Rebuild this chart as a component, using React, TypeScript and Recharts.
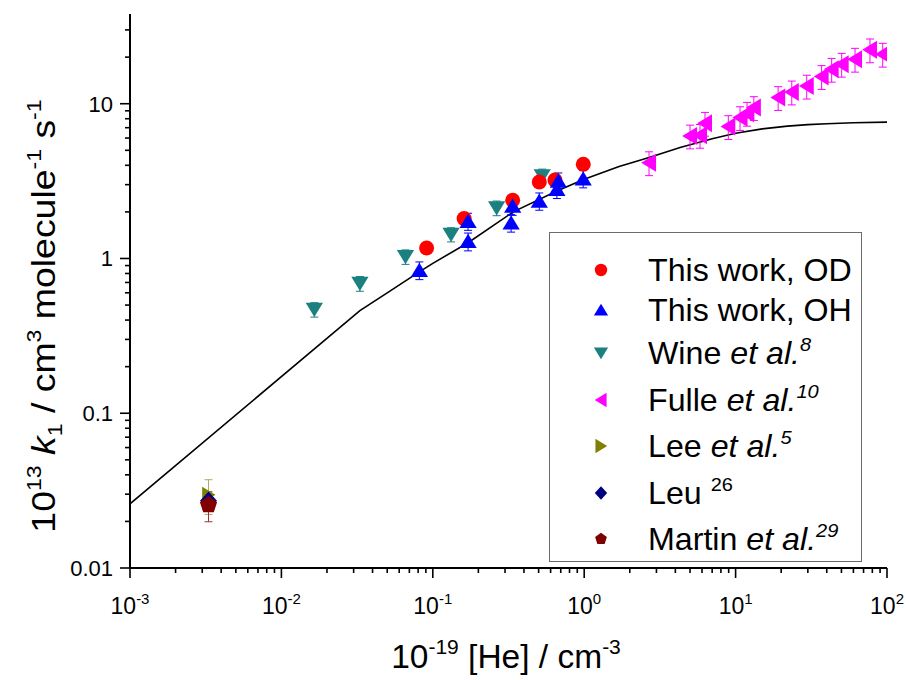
import React from 'react';
import { ComposedChart, Scatter, Line, XAxis, YAxis, ErrorBar, Legend } from 'recharts';

// ---------- data ----------
const odX = [0.091, 0.161, 0.337, 0.505, 0.641, 0.986];
const odY = [1.17, 1.81, 2.38, 3.12, 3.21, 4.06];
const odErr = [0.06, 0.09, 0.12, 0.16, 0.16, 0.2];

const ohX = [0.0815, 0.171, 0.171, 0.337, 0.329, 0.505, 0.675, 0.66, 0.985];
const ohY = [0.84, 1.74, 1.29, 2.18, 1.7, 2.35, 3.17, 2.8, 3.28];
const ohErr = [0.11, 0.22, 0.17, 0.28, 0.22, 0.3, 0.4, 0.36, 0.42];

const wineX = [0.0165, 0.033, 0.066, 0.132, 0.264, 0.528];
const wineY = [0.468, 0.689, 1.026, 1.43, 2.12, 3.41];
const wineErr = [0.05, 0.075, 0.11, 0.15, 0.23, 0.37];

const fulleX = [2.68, 5.0, 5.82, 6.28, 8.95, 10.7, 11.9, 13.2, 19.1, 23.5, 29.5, 37.0, 43.1, 50.2, 61.5, 77.2, 93.7];
const fulleY = [4.16, 6.19, 6.25, 7.48, 7.12, 8.14, 8.68, 9.45, 10.97, 11.92, 13.0, 15.0, 16.7, 18.0, 19.4, 22.3, 20.9];
const fulleErr = [0.73, 1.08, 1.09, 1.31, 1.25, 1.42, 1.52, 1.65, 1.92, 2.09, 2.28, 2.63, 2.92, 3.15, 3.4, 3.9, 3.66];

const leeX = [0.0033];
const leeY = [0.0297];
const leeErr = [0.0075];

const leuX = [0.0033];
const leuY = [0.0272];

const martinX = [0.0033];
const martinY = [0.0255];
const martinErr = [0.0056];

const fitX = [0.001, 0.033, 0.05, 0.08, 0.1, 0.17, 0.34, 0.66, 1, 1.7, 2.65, 4.3, 7, 10, 15, 22, 30, 40, 60, 100];
const fitY = [0.026, 0.46, 0.6, 0.81, 0.93, 1.26, 2.0, 2.73, 3.25, 3.93, 4.48, 5.21, 5.94, 6.44, 6.88, 7.17, 7.33, 7.43, 7.53, 7.6];

const xDecades = [0.001, 0.01, 0.1, 1, 10, 100];
const xExpLabels = ['-3', '-2', '-1', '0', '1', '2'];
const yDecades = [0.01, 0.1, 1, 10];
const yLabels = ['0.01', '0.1', '1', '10'];
const yTop = 38;

const legendBase = ['This work, OD', 'This work, OH', 'Wine ', 'Fulle ', 'Lee ', 'Leu ', 'Martin '];
const legendItalic = ['', '', 'et al.', 'et al.', 'et al.', '', 'et al.'];
const legendRef = ['', '', '8', '10', '5', '26', '29'];

// ---------- helpers ----------
const zip = (xs: number[], ys: number[], es?: number[]) =>
  xs.map((x, i) => ({ x, y: ys[i], e: es ? es[i] : 0 }));

const minorTicks = (decades: number[], top: number) => {
  const out: number[] = [];
  decades.forEach((d) => {
    for (let k = 1; k <= 9; k++) {
      const v = +(d * k).toPrecision(6);
      if (v <= top + 1e-9) out.push(v);
    }
  });
  return out;
};
const xTicks = minorTicks(xDecades.slice(0, -1), 100).concat([100]);
const yTicks = minorTicks(yDecades, yTop);

const FONT = '"Liberation Sans", Arial, Helvetica, sans-serif';

type Kind = 'circle' | 'up' | 'down' | 'left' | 'right' | 'diamond' | 'pentagon';

const Marker = ({ kind, cx, cy, s, fill }: { kind: Kind; cx: number; cy: number; s: number; fill: string }) => {
  if (kind === 'circle') return <circle cx={cx} cy={cy} r={s} fill={fill} />;
  let pts: number[][] = [];
  const w = s * 1.15;
  if (kind === 'up') pts = [[cx, cy - s], [cx - w, cy + s * 0.9], [cx + w, cy + s * 0.9]];
  if (kind === 'down') pts = [[cx, cy + s], [cx - w, cy - s * 0.9], [cx + w, cy - s * 0.9]];
  if (kind === 'left') pts = [[cx - s, cy], [cx + s * 0.9, cy - w], [cx + s * 0.9, cy + w]];
  if (kind === 'right') pts = [[cx + s, cy], [cx - s * 0.9, cy - w], [cx - s * 0.9, cy + w]];
  if (kind === 'diamond') pts = [[cx, cy - s * 1.1], [cx + s, cy], [cx, cy + s * 1.1], [cx - s, cy]];
  if (kind === 'pentagon')
    pts = [0, 1, 2, 3, 4].map((i) => {
      const a = -Math.PI / 2 + (i * 2 * Math.PI) / 5;
      return [cx + s * Math.cos(a), cy + s * Math.sin(a)];
    });
  return <polygon points={pts.map((p) => p.join(',')).join(' ')} fill={fill} />;
};

const shapeOf = (kind: Kind, s: number, fill: string) => (props: any) =>
  <Marker kind={kind} cx={props.cx} cy={props.cy} s={s} fill={fill} />;

const series: { name: string; kind: Kind; color: string; ebColor: string; data: any[]; size: number; err: boolean }[] = [
  { name: 'lee', kind: 'right', color: '#808000', ebColor: '#b8a46a', data: zip(leeX, leeY, leeErr), size: 7, err: true },
  { name: 'leu', kind: 'diamond', color: '#000080', ebColor: '#000080', data: zip(leuX, leuY), size: 8.5, err: false },
  { name: 'martin', kind: 'pentagon', color: '#800000', ebColor: '#a0302a', data: zip(martinX, martinY, martinErr), size: 9, err: true },
  { name: 'wine', kind: 'down', color: '#1a8080', ebColor: '#1a8080', data: zip(wineX, wineY, wineErr), size: 7.5, err: true },
  { name: 'od', kind: 'circle', color: '#ff0000', ebColor: '#ff0000', data: zip(odX, odY, odErr), size: 7.5, err: true },
  { name: 'oh', kind: 'up', color: '#0000ff', ebColor: '#0000ff', data: zip(ohX, ohY, ohErr), size: 7.5, err: true },
  { name: 'fulle', kind: 'left', color: '#ff00ff', ebColor: '#ff00ff', data: zip(fulleX, fulleY, fulleErr), size: 7.8, err: true },
];

const legendKinds: Kind[] = ['circle', 'up', 'down', 'left', 'right', 'diamond', 'pentagon'];
const legendColors = ['#ff0000', '#0000ff', '#1a8080', '#ff00ff', '#808000', '#000080', '#800000'];
const legendRowHeights = [40, 40, 46.5, 46.5, 46.5, 46.5, 46.5];

const fitData = zip(fitX, fitY);

// ---------- ticks ----------
const XTick = (props: any) => {
  const { x, y, payload } = props;
  const v = payload.value;
  const idx = xDecades.findIndex((d) => Math.abs(d - v) / d < 1e-6);
  const major = idx >= 0;
  return (
    <g>
      <line x1={x} x2={x} y1={y} y2={y + (major ? 10 : 5)} stroke="#000" strokeWidth={1.6} />
      {major && (
        <text x={x} y={y + 46} textAnchor="middle" fontSize={23} fontFamily={FONT} fill="#000">
          10
          <tspan dy={-10} fontSize={15}>{xExpLabels[idx]}</tspan>
        </text>
      )}
    </g>
  );
};

const YTick = (props: any) => {
  const { x, y, payload } = props;
  const v = payload.value;
  const idx = yDecades.findIndex((d) => Math.abs(d - v) / d < 1e-6);
  const major = idx >= 0;
  return (
    <g>
      <line x1={x - (major ? 10 : 5)} x2={x} y1={y} y2={y} stroke="#000" strokeWidth={1.6} />
      {major && (
        <text x={x - 17} y={y + 8} textAnchor="end" fontSize={22} fontFamily={FONT} fill="#000">
          {yLabels[idx]}
        </text>
      )}
    </g>
  );
};

const XTitle = () => (
  <text x={506} y={668} textAnchor="middle" fontSize={33.5} fontFamily={FONT} fill="#000">
    10
    <tspan dy={-14} fontSize={21}>-19</tspan>
    <tspan dy={14}>{' [He] / cm'}</tspan>
    <tspan dy={-14} fontSize={21}>-3</tspan>
  </text>
);

const YTitle = () => (
  <text
    x={0}
    y={0}
    transform="translate(55, 316) rotate(-90) scale(1.1, 1)"
    textAnchor="middle"
    fontSize={34}
    fontFamily={FONT}
    fill="#000"
  >
    10
    <tspan dy={-14} fontSize={21}>13</tspan>
    <tspan dy={14}>{' '}</tspan>
    <tspan fontStyle="italic">k</tspan>
    <tspan dy={7} fontSize={21}>1</tspan>
    <tspan dy={-7}>{' / cm'}</tspan>
    <tspan dy={-14} fontSize={21}>3</tspan>
    <tspan dy={14}>{' molecule'}</tspan>
    <tspan dy={-14} fontSize={21}>-1</tspan>
    <tspan dy={14}>{' s'}</tspan>
    <tspan dy={-14} fontSize={21}>-1</tspan>
  </text>
);

const LegendBox = () => (
  <div
    style={{
      width: 313,
      height: 330,
      boxSizing: 'border-box',
      border: '1px solid #6a6a6a',
      background: '#fff',
      paddingTop: 17,
      fontFamily: FONT,
      color: '#000',
    }}
  >
    {legendBase.map((b, i) => (
      <div key={i} style={{ height: legendRowHeights[i], display: 'flex', alignItems: 'center', lineHeight: 1 }}>
        <svg width={22} height={22} style={{ marginLeft: 40, flex: 'none' }}>
          <Marker kind={legendKinds[i]} cx={11} cy={11} s={6.2} fill={legendColors[i]} />
        </svg>
        <span
          style={{
            marginLeft: 36,
            fontSize: 30.5,
            whiteSpace: 'pre',
            position: 'relative',
            display: 'inline-block',
            transform: 'scaleX(1.055)',
            transformOrigin: 'left center',
          }}
        >
          {b}
          {legendItalic[i] && <i>{legendItalic[i]}</i>}
          {legendRef[i] && (
            <span
              style={{
                fontSize: 19,
                position: 'relative',
                top: -13,
                fontStyle: i === 5 ? 'normal' : 'italic',
              }}
            >
              {legendRef[i]}
            </span>
          )}
        </span>
      </div>
    ))}
  </div>
);

export default function App() {
  return (
    <div style={{ position: 'absolute', left: 0, top: 0, background: '#fff' }}>
      <ComposedChart width={907} height={680} margin={{ top: 14, right: 20, bottom: 12, left: 30 }}>
        <XAxis
          type="number"
          dataKey="x"
          scale="log"
          domain={[0.001, 100]}
          allowDataOverflow
          ticks={xTicks}
          interval={0}
          tick={<XTick />}
          tickLine={false}
          tickSize={0}
          tickMargin={0}
          height={100}
          axisLine={{ stroke: '#000', strokeWidth: 2 }}
          label={<XTitle />}
        />
        <YAxis
          type="number"
          dataKey="y"
          scale="log"
          domain={[0.01, yTop]}
          allowDataOverflow
          ticks={yTicks}
          interval={0}
          tick={<YTick />}
          tickLine={false}
          tickSize={0}
          tickMargin={0}
          width={100}
          axisLine={{ stroke: '#000', strokeWidth: 2 }}
          label={<YTitle />}
        />
        <Line
          data={fitData}
          dataKey="y"
          type="linear"
          stroke="#000"
          strokeWidth={1.6}
          dot={false}
          activeDot={false}
          legendType="none"
          isAnimationActive={false}
        />
        {series.map((s) => (
          <Scatter
            key={s.name}
            name={s.name}
            data={s.data}
            fill={s.color}
            shape={shapeOf(s.kind, s.size, s.color)}
            isAnimationActive={false}
          >
            {s.err && (
              <ErrorBar dataKey="e" direction="y" width={4} stroke={s.ebColor} strokeWidth={1} />
            )}
          </Scatter>
        ))}
        <Legend
          layout="vertical"
          align="center"
          verticalAlign="middle"
          content={<LegendBox />}
          wrapperStyle={{ position: 'absolute', left: 549, top: 232, width: 313, height: 330 }}
        />
      </ComposedChart>
    </div>
  );
}
